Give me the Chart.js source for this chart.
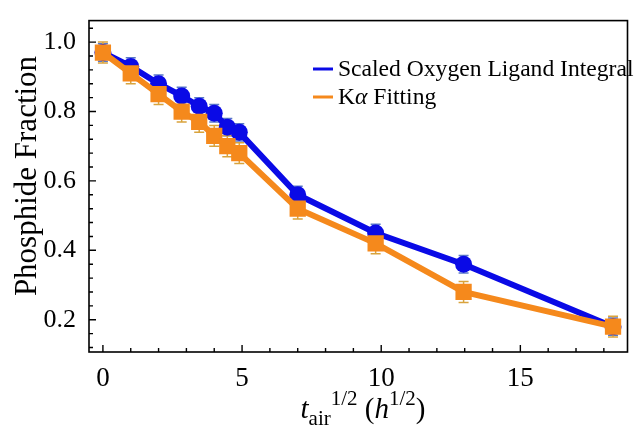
<!DOCTYPE html>
<html>
<head>
<meta charset="utf-8">
<script src="https://cdn.jsdelivr.net/npm/chart.js@4.4.1/dist/chart.umd.min.js"></script>
<style>
  html, body { margin: 0; padding: 0; background: #ffffff; }
  #wrap { width: 639px; height: 432px; position: relative; }
</style>
</head>
<body>
<div id="wrap"><canvas id="chartPhosphide"></canvas></div>
<script>
// sqrt(air exposure time), h^1/2
const xVals = [0, 1, 2, 2.83, 3.46, 4, 4.47, 4.9, 7, 9.8, 12.96, 18.33];
const oxygenVals = [0.97, 0.93, 0.88, 0.845, 0.815, 0.795, 0.755, 0.74, 0.56, 0.45, 0.36, 0.18];
const oxygenErr = [0.025, 0.025, 0.025, 0.025, 0.025, 0.025, 0.025, 0.025, 0.025, 0.025, 0.025, 0.025];
const kaVals = [0.97, 0.91, 0.85, 0.80, 0.77, 0.73, 0.70, 0.68, 0.52, 0.42, 0.28, 0.18];
const kaErr = [0.03, 0.03, 0.03, 0.03, 0.03, 0.03, 0.03, 0.03, 0.03, 0.03, 0.03, 0.03];
const xTicks = [0, 5, 10, 15];
const yTicks = [0.2, 0.4, 0.6, 0.8, 1.0];

const BLUE = '#0a0ae6';
const ORANGE = '#f5891c';
const SERIF = '"Liberation Serif", "DejaVu Serif", serif';

function toPoints(ys) {
  return xVals.map((x, i) => ({ x: x, y: ys[i] }));
}

// frame + inward ticks (left and bottom), drawn under the data
const framePlugin = {
  id: 'frame',
  beforeDatasetsDraw(chart) {
    const { ctx, chartArea: a, scales } = chart;
    const xs = scales.x, ys = scales.y;
    ctx.save();
    ctx.strokeStyle = '#000';
    ctx.lineWidth = 1.6;
    ctx.strokeRect(a.left, a.top, a.right - a.left, a.bottom - a.top);
    ctx.lineWidth = 1.4;
    ctx.beginPath();
    for (let v = 0; v <= 18; v++) {
      const px = xs.getPixelForValue(v);
      const len = v % 5 === 0 ? 7 : 4;
      ctx.moveTo(px, a.bottom);
      ctx.lineTo(px, a.bottom - len);
    }
    for (let k = 3; k <= 26; k++) {
      const v = k * 0.04;
      const py = ys.getPixelForValue(v);
      const len = k % 5 === 0 ? 7 : 4;
      ctx.moveTo(a.left, py);
      ctx.lineTo(a.left + len, py);
    }
    ctx.stroke();

    // error bars
    const bars = [[oxygenVals, oxygenErr, '#5a78c8'], [kaVals, kaErr, '#d9a33c']];
    bars.forEach(([vals, errs, col]) => {
      ctx.strokeStyle = col;
      ctx.lineWidth = 1.5;
      ctx.beginPath();
      vals.forEach((v, i) => {
        const px = xs.getPixelForValue(xVals[i]);
        const top = ys.getPixelForValue(v + errs[i]);
        const bot = ys.getPixelForValue(v - errs[i]);
        ctx.moveTo(px, top); ctx.lineTo(px, bot);
        ctx.moveTo(px - 5, top); ctx.lineTo(px + 5, top);
        ctx.moveTo(px - 5, bot); ctx.lineTo(px + 5, bot);
      });
      ctx.stroke();
    });
    ctx.restore();
  }
};

// axis titles and legend (need sub/superscripts and italics)
const textPlugin = {
  id: 'texts',
  afterDraw(chart) {
    const { ctx, chartArea: a } = chart;
    ctx.save();
    ctx.fillStyle = '#000';
    ctx.textBaseline = 'alphabetic';

    // y title
    ctx.save();
    ctx.translate(36, 176);
    ctx.rotate(-Math.PI / 2);
    ctx.textAlign = 'center';
    ctx.font = '31px ' + SERIF;
    ctx.fillText('Phosphide Fraction', 0, 0);
    ctx.restore();

    // x title: t_air^{1/2} (h^{1/2})
    const parts = [
      { t: 't', f: 'italic 29px ' + SERIF, dy: 0 },
      { t: 'air', f: '21px ' + SERIF, dy: 7 },
      { t: '1/2', f: '21px ' + SERIF, dy: -13 },
      { t: ' (', f: '29px ' + SERIF, dy: 0 },
      { t: 'h', f: 'italic 29px ' + SERIF, dy: 0 },
      { t: '1/2', f: '21px ' + SERIF, dy: -13 },
      { t: ')', f: '29px ' + SERIF, dy: 0 }
    ];
    let total = 0;
    parts.forEach(p => { ctx.font = p.f; p.w = ctx.measureText(p.t).width; total += p.w; });
    let x = 363 - total / 2;
    const base = 418;
    ctx.textAlign = 'left';
    parts.forEach(p => {
      ctx.font = p.f;
      ctx.fillText(p.t, x, base + p.dy);
      x += p.w;
    });

    // legend
    const items = [
      { color: BLUE, parts: [['Scaled Oxygen Ligand Integral', '23.6px ' + SERIF]], y: 69 },
      { color: ORANGE, parts: [['K', '23.6px ' + SERIF], ['\u03b1', 'italic 23.6px ' + SERIF], [' Fitting', '23.6px ' + SERIF]], y: 97 }
    ];
    items.forEach(it => {
      ctx.strokeStyle = it.color;
      ctx.lineWidth = 3;
      ctx.beginPath();
      ctx.moveTo(313, it.y);
      ctx.lineTo(333, it.y);
      ctx.stroke();
      let tx = 338;
      it.parts.forEach(([s, f]) => {
        ctx.font = f;
        ctx.fillText(s, tx, it.y + 7);
        tx += ctx.measureText(s).width;
      });
    });
    ctx.restore();
  }
};

new Chart(document.getElementById('chartPhosphide'), {
  type: 'scatter',
  data: {
    datasets: [
      {
        label: 'Scaled Oxygen Ligand Integral',
        data: toPoints(oxygenVals),
        showLine: true,
        borderColor: BLUE,
        backgroundColor: BLUE,
        borderWidth: 6,
        pointStyle: 'circle',
        pointRadius: 8.5,
        pointBorderWidth: 0,
        order: 2
      },
      {
        label: 'K\u03b1 Fitting',
        data: toPoints(kaVals),
        showLine: true,
        borderColor: ORANGE,
        backgroundColor: ORANGE,
        borderWidth: 6,
        pointStyle: 'rect',
        pointRadius: 11.5,
        pointBorderWidth: 0,
        order: 1
      }
    ]
  },
  options: {
    responsive: true,
    maintainAspectRatio: false,
    animation: false,
    layout: { padding: { top: 12, right: 2, left: 0, bottom: 0 } },
    plugins: {
      legend: { display: false },
      tooltip: { enabled: false }
    },
    scales: {
      x: {
        type: 'linear',
        min: -0.5,
        max: 18.85,
        grid: { display: false },
        border: { display: false },
        afterBuildTicks: s => { s.ticks = xTicks.map(v => ({ value: v })); },
        afterFit: s => { s.height = 80; },
        ticks: {
          color: '#000',
          padding: 3,
          maxRotation: 0,
          font: { family: SERIF, size: 27 },
          callback: v => String(v)
        }
      },
      y: {
        type: 'linear',
        min: 0.107,
        max: 1.062,
        grid: { display: false },
        border: { display: false },
        afterBuildTicks: s => { s.ticks = yTicks.map(v => ({ value: v })); },
        afterFit: s => { s.width = 89; },
        ticks: {
          color: '#000',
          padding: 5,
          font: { family: SERIF, size: 26 },
          callback: v => Number(v).toFixed(1)
        }
      }
    }
  },
  plugins: [framePlugin, textPlugin]
});
</script>
</body>
</html>
